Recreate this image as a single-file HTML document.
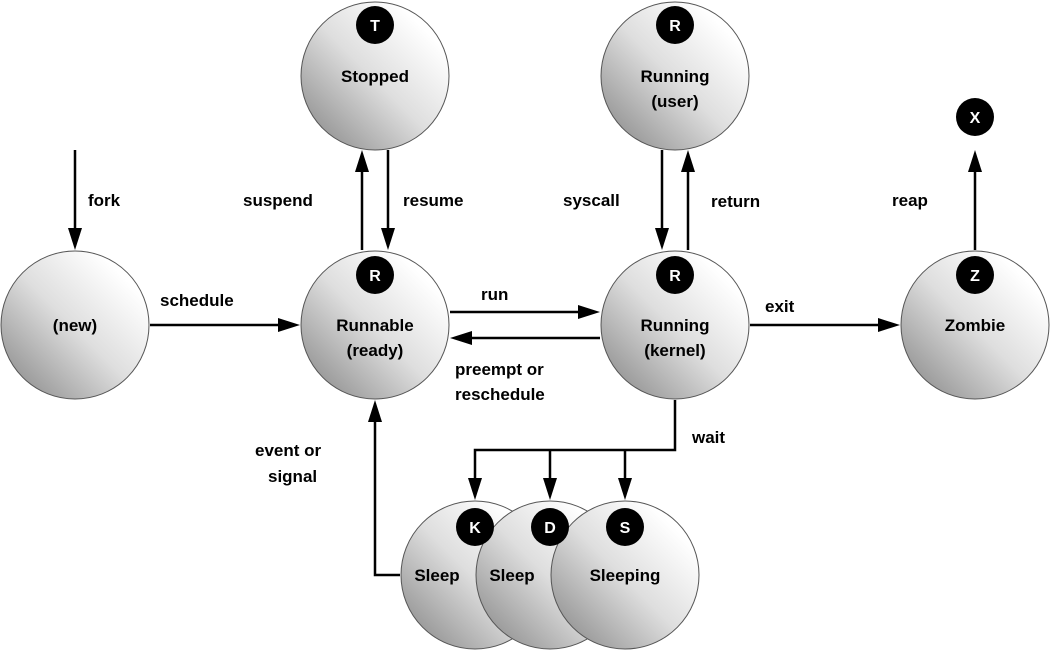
<!DOCTYPE html>
<html><head><meta charset="utf-8"><style>
html,body{margin:0;padding:0;background:#fff;}
svg{display:block;font-family:"Liberation Sans",sans-serif;font-weight:bold;}
</style></head><body>
<svg width="1051" height="651" viewBox="0 0 1051 651" xmlns="http://www.w3.org/2000/svg">
<defs>
<linearGradient id="g" x1="0.1" y1="0.95" x2="0.85" y2="0.2">
<stop offset="0" stop-color="#8f8f8f"/>
<stop offset="0.55" stop-color="#dedede"/>
<stop offset="1" stop-color="#ffffff"/>
</linearGradient>
<marker id="a" markerWidth="10" markerHeight="10" refX="9" refY="5" orient="auto" markerUnits="userSpaceOnUse" viewBox="0 0 10 10">
</marker>
</defs>
<g stroke="#000" stroke-width="2.5" fill="none">
<line x1="75" y1="150" x2="75" y2="235"/>
<line x1="150" y1="325" x2="285" y2="325"/>
<line x1="362" y1="250" x2="362" y2="165"/>
<line x1="388" y1="150" x2="388" y2="235"/>
<line x1="662" y1="150" x2="662" y2="235"/>
<line x1="688" y1="250" x2="688" y2="165"/>
<line x1="450" y1="312" x2="585" y2="312"/>
<line x1="600" y1="338" x2="465" y2="338"/>
<line x1="750" y1="325" x2="885" y2="325"/>
<line x1="975" y1="250" x2="975" y2="165"/>
<polyline points="675,400 675,450 475,450 475,485"/>
<line x1="550" y1="450" x2="550" y2="485"/>
<line x1="625" y1="450" x2="625" y2="485"/>
<polyline points="400,575 375,575 375,415"/>
</g>
<g fill="#000">
<polygon points="75,250 68,228 82,228"/>
<polygon points="300,325 278,318 278,332"/>
<polygon points="362,150 355,172 369,172"/>
<polygon points="388,250 381,228 395,228"/>
<polygon points="662,250 655,228 669,228"/>
<polygon points="688,150 681,172 695,172"/>
<polygon points="600,312 578,305 578,319"/>
<polygon points="450,338 472,331 472,345"/>
<polygon points="900,325 878,318 878,332"/>
<polygon points="975,150 968,172 982,172"/>
<polygon points="475,500 468,478 482,478"/>
<polygon points="550,500 543,478 557,478"/>
<polygon points="625,500 618,478 632,478"/>
<polygon points="375,400 368,422 382,422"/>
</g>
<g fill="url(#g)" stroke="#555" stroke-width="1">
<circle cx="75" cy="325" r="74"/>
<circle cx="375" cy="325" r="74"/>
<circle cx="375" cy="76" r="74"/>
<circle cx="675" cy="76" r="74"/>
<circle cx="675" cy="325" r="74"/>
<circle cx="975" cy="325" r="74"/>
<circle cx="475" cy="575" r="74"/>
<circle cx="550" cy="575" r="74"/>
<circle cx="625" cy="575" r="74"/>
</g>
<g fill="#000">
<circle cx="375" cy="25" r="19"/><circle cx="675" cy="25" r="19"/>
<circle cx="375" cy="275" r="19"/><circle cx="675" cy="275" r="19"/>
<circle cx="975" cy="275" r="19"/><circle cx="975" cy="117" r="19"/>
<circle cx="475" cy="527" r="19"/><circle cx="550" cy="527" r="19"/><circle cx="625" cy="527" r="19"/>
</g>
<g fill="#fff" font-size="16" text-anchor="middle">
<text x="375" y="31">T</text><text x="675" y="31">R</text>
<text x="375" y="281">R</text><text x="675" y="281">R</text>
<text x="975" y="281">Z</text><text x="975" y="123">X</text>
<text x="475" y="533">K</text><text x="550" y="533">D</text><text x="625" y="533">S</text>
</g>
<g fill="#000" font-size="17" text-anchor="middle">
<text x="75" y="331">(new)</text>
<text x="375" y="331">Runnable</text><text x="375" y="356">(ready)</text>
<text x="375" y="82">Stopped</text>
<text x="675" y="82">Running</text><text x="675" y="107">(user)</text>
<text x="675" y="331">Running</text><text x="675" y="356">(kernel)</text>
<text x="975" y="331">Zombie</text>
<text x="437" y="581">Sleep</text><text x="512" y="581">Sleep</text><text x="625" y="581">Sleeping</text>
</g>
<g fill="#000" font-size="17">
<text x="88" y="206">fork</text>
<text x="160" y="306">schedule</text>
<text x="243" y="206">suspend</text>
<text x="403" y="206">resume</text>
<text x="563" y="206">syscall</text>
<text x="711" y="207">return</text>
<text x="481" y="300">run</text>
<text x="455" y="375">preempt or</text>
<text x="455" y="400">reschedule</text>
<text x="765" y="312">exit</text>
<text x="892" y="206">reap</text>
<text x="692" y="443">wait</text>
<text x="255" y="456">event or</text>
<text x="268" y="482">signal</text>
</g>
</svg>
</body></html>
